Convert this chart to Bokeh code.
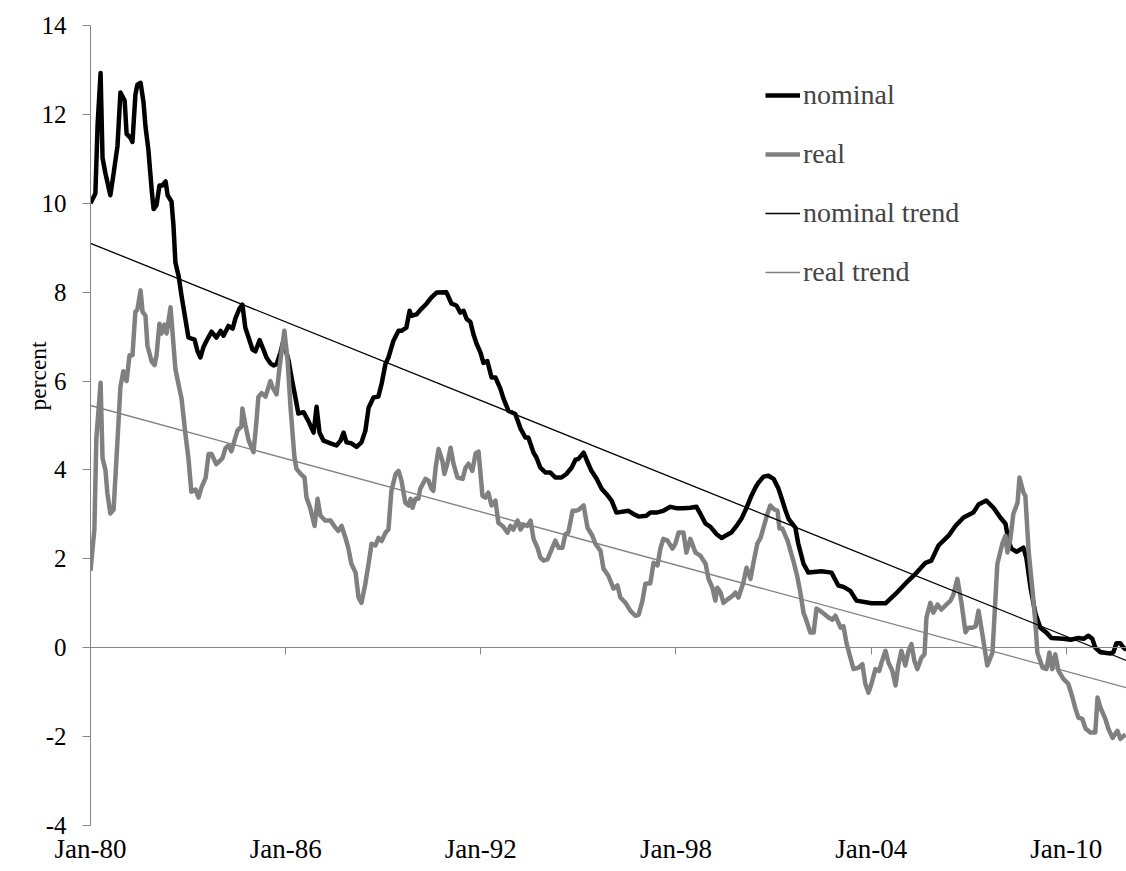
from bokeh.plotting import figure
from bokeh.models import LinearAxis, FixedTicker, Legend, LegendItem, Range1d, Title
from bokeh.embed import file_html
from bokeh.resources import INLINE

FONT = "Liberation Serif"

# ---- data (offsets in years from Jan-1980, values in percent) ----
nominal_t = [0.00, 0.15, 0.22, 0.31, 0.37, 0.46, 0.61, 0.71, 0.83, 0.92, 1.05, 1.11, 1.23, 1.29, 1.38, 1.44,
             1.54, 1.63, 1.69, 1.78, 1.88, 1.94, 2.03, 2.12, 2.21, 2.31, 2.37, 2.49, 2.55, 2.61, 2.71, 2.80,
             2.92, 3.01, 3.20, 3.29, 3.38, 3.47, 3.60, 3.72, 3.87, 4.00, 4.09, 4.24, 4.37, 4.46, 4.58, 4.67,
             4.76, 4.86, 4.98, 5.07, 5.20, 5.32, 5.41, 5.53, 5.63, 5.72, 5.84, 5.93, 6.09, 6.18, 6.30, 6.39,
             6.55, 6.70, 6.86, 6.95, 7.04, 7.16, 7.38, 7.56, 7.69, 7.78, 7.87, 8.02, 8.18, 8.33, 8.45, 8.55,
             8.70, 8.85, 8.95, 9.07, 9.16, 9.31, 9.47, 9.56, 9.71, 9.81, 9.87, 10.02, 10.18, 10.33, 10.48,
             10.64, 10.94, 11.10, 11.25, 11.37, 11.47, 11.56, 11.68, 11.77, 11.87, 11.99, 12.08, 12.20,
             12.33, 12.45, 12.60, 12.70, 12.85, 13.06, 13.22, 13.37, 13.46, 13.62, 13.71, 13.83, 13.99,
             14.14, 14.29, 14.48, 14.63, 14.79, 14.91, 15.00, 15.16, 15.25, 15.40, 15.56, 15.71, 15.86,
             16.02, 16.17, 16.54, 16.69, 16.85, 17.09, 17.21, 17.40, 17.61, 17.83, 18.01, 18.23, 18.44,
             18.63, 18.75, 18.91, 19.06, 19.24, 19.40, 19.52, 19.70, 19.86, 20.01, 20.17, 20.32, 20.44,
             20.53, 20.69, 20.84, 21.00, 21.15, 21.24, 21.37, 21.46, 21.67, 21.76, 21.92, 22.07, 22.47,
             22.78, 22.99, 23.15, 23.36, 23.55, 24.01, 24.44, 24.75, 25.05, 25.36, 25.67, 25.85, 26.07,
             26.38, 26.59, 26.84, 27.14, 27.30, 27.54, 27.76, 27.97, 28.13, 28.22, 28.31, 28.47, 28.68,
             28.77, 28.90, 29.05, 29.20, 29.39, 29.54, 29.91, 30.13, 30.37, 30.53, 30.68, 30.80, 30.89,
             31.05, 31.36, 31.45, 31.54, 31.66, 31.76, 31.85]
nominal = [10.0, 10.22, 11.8, 12.93, 11.02, 10.67, 10.18, 10.67, 11.29, 12.49, 12.31, 11.56, 11.47, 11.38,
           12.44, 12.67, 12.71, 12.27, 11.73, 11.2, 10.31, 9.87, 9.96, 10.4, 10.4, 10.49, 10.18, 10.04, 9.51,
           8.67, 8.36, 7.91, 7.38, 6.98, 6.93, 6.67, 6.53, 6.76, 6.95, 7.11, 6.98, 7.13, 7.02, 7.24, 7.18,
           7.42, 7.63, 7.72, 7.2, 6.98, 6.71, 6.67, 6.92, 6.7, 6.53, 6.4, 6.35, 6.38, 6.64, 6.9, 6.46, 6.08,
           5.63, 5.27, 5.3, 5.1, 4.84, 5.42, 4.84, 4.66, 4.6, 4.55, 4.66, 4.84, 4.62, 4.6, 4.52, 4.62, 4.88,
           5.4, 5.63, 5.65, 5.94, 6.39, 6.53, 6.9, 7.13, 7.13, 7.2, 7.58, 7.47, 7.5, 7.63, 7.74, 7.88, 7.99,
           8.0, 7.74, 7.7, 7.54, 7.58, 7.4, 7.33, 7.06, 6.84, 6.64, 6.41, 6.45, 6.08, 6.08, 5.83, 5.6, 5.33,
           5.26, 4.93, 4.73, 4.73, 4.39, 4.28, 4.05, 3.94, 3.94, 3.83, 3.83, 3.91, 4.05, 4.23, 4.25, 4.39,
           4.23, 3.98, 3.8, 3.58, 3.46, 3.31, 3.04, 3.08, 3.01, 2.95, 2.97, 3.04, 3.04, 3.08, 3.17, 3.14,
           3.14, 3.15, 3.17, 3.01, 2.79, 2.72, 2.56, 2.47, 2.52, 2.59, 2.74, 2.9, 3.15, 3.42, 3.6, 3.71,
           3.85, 3.87, 3.8, 3.58, 3.38, 3.08, 2.9, 2.7, 2.34, 1.89, 1.69, 1.72, 1.69, 1.4, 1.37, 1.28, 1.06,
           1.0, 1.0, 1.21, 1.44, 1.66, 1.91, 1.96, 2.3, 2.52, 2.74, 2.93, 3.04, 3.22, 3.31, 3.15, 2.93,
           2.79, 2.41, 2.23, 2.16, 2.25, 2.03, 1.35, 0.77, 0.45, 0.34, 0.22, 0.2, 0.18, 0.22, 0.2, 0.27, 0.2,
           0.0, -0.1, -0.13, -0.1, 0.1, 0.1, 0.0, -0.05]

real_t = [0.00, 0.12, 0.18, 0.31, 0.37, 0.46, 0.52, 0.61, 0.71, 0.80, 0.92, 1.01, 1.11, 1.20, 1.29, 1.38,
          1.44, 1.54, 1.60, 1.69, 1.75, 1.88, 1.97, 2.03, 2.12, 2.18, 2.27, 2.34, 2.46, 2.52, 2.61, 2.71,
          2.80, 2.92, 3.01, 3.10, 3.23, 3.32, 3.41, 3.54, 3.63, 3.72, 3.87, 4.00, 4.06, 4.15, 4.24, 4.33,
          4.43, 4.52, 4.64, 4.67, 4.76, 4.86, 5.01, 5.10, 5.16, 5.26, 5.38, 5.53, 5.59, 5.72, 5.81, 5.96,
          6.06, 6.15, 6.27, 6.33, 6.46, 6.58, 6.64, 6.76, 6.89, 6.98, 7.07, 7.22, 7.38, 7.53, 7.62, 7.72,
          7.84, 7.93, 8.02, 8.15, 8.24, 8.33, 8.45, 8.55, 8.64, 8.76, 8.85, 8.95, 9.07, 9.16, 9.25, 9.38,
          9.47, 9.56, 9.68, 9.78, 9.84, 9.90, 9.99, 10.08, 10.14, 10.30, 10.39, 10.48, 10.54, 10.61, 10.70,
          10.82, 10.88, 10.97, 11.07, 11.16, 11.28, 11.44, 11.53, 11.62, 11.74, 11.84, 11.93, 12.05, 12.14,
          12.23, 12.33, 12.45, 12.54, 12.67, 12.82, 12.91, 13.00, 13.13, 13.22, 13.31, 13.43, 13.53, 13.62,
          13.74, 13.83, 13.93, 14.05, 14.20, 14.29, 14.39, 14.51, 14.60, 14.69, 14.82, 14.91, 15.00, 15.16,
          15.28, 15.43, 15.52, 15.68, 15.77, 15.92, 16.08, 16.20, 16.29, 16.45, 16.60, 16.75, 16.85, 16.97,
          17.06, 17.21, 17.31, 17.43, 17.52, 17.61, 17.74, 17.89, 17.98, 18.08, 18.23, 18.32, 18.44, 18.60,
          18.75, 18.91, 19.00, 19.12, 19.21, 19.27, 19.37, 19.46, 19.61, 19.74, 19.83, 19.92, 20.07, 20.17,
          20.29, 20.38, 20.50, 20.60, 20.69, 20.81, 20.90, 21.00, 21.12, 21.18, 21.27, 21.43, 21.52, 21.61,
          21.73, 21.83, 21.92, 22.01, 22.13, 22.23, 22.32, 22.47, 22.69, 22.81, 22.90, 23.06, 23.15, 23.24,
          23.36, 23.46, 23.61, 23.73, 23.82, 23.92, 24.01, 24.13, 24.25, 24.32, 24.44, 24.53, 24.65, 24.75,
          24.84, 24.93, 25.05, 25.15, 25.24, 25.33, 25.42, 25.55, 25.64, 25.70, 25.82, 25.91, 26.04, 26.16,
          26.31, 26.44, 26.53, 26.65, 26.78, 26.90, 26.99, 27.11, 27.21, 27.30, 27.42, 27.57, 27.73, 27.88,
          28.04, 28.13, 28.19, 28.28, 28.37, 28.50, 28.56, 28.68, 28.74, 28.84, 28.96, 29.05, 29.11, 29.27,
          29.39, 29.48, 29.57, 29.66, 29.76, 29.91, 30.06, 30.19, 30.28, 30.37, 30.49, 30.59, 30.74, 30.89,
          30.96, 31.05, 31.20, 31.29, 31.42, 31.57, 31.66, 31.82]
real = [1.73, 2.67, 4.71, 5.96, 4.27, 4.0, 3.47, 3.02, 3.11, 4.27, 5.87, 6.22, 6.0, 6.58, 6.58, 7.56, 7.6,
        8.04, 7.56, 7.47, 6.8, 6.44, 6.36, 6.58, 7.29, 7.07, 7.27, 7.07, 7.66, 7.11, 6.27, 5.91, 5.6, 4.8,
        4.27, 3.51, 3.56, 3.38, 3.6, 3.82, 4.36, 4.36, 4.13, 4.22, 4.27, 4.49, 4.55, 4.42, 4.67, 4.89, 4.98,
        5.38, 5.02, 4.67, 4.4, 5.07, 5.64, 5.73, 5.65, 6.0, 5.87, 5.7, 6.3, 7.13, 6.46, 5.4, 4.28, 4.03,
        3.91, 3.83, 3.38, 3.13, 2.74, 3.35, 2.97, 2.86, 2.86, 2.7, 2.63, 2.74, 2.47, 2.23, 1.89, 1.69, 1.13,
        1.01, 1.44, 1.89, 2.34, 2.3, 2.47, 2.4, 2.59, 2.66, 3.53, 3.91, 3.98, 3.76, 3.26, 3.2, 3.35, 3.15,
        3.35, 3.35, 3.58, 3.8, 3.76, 3.58, 3.53, 4.05, 4.47, 4.2, 3.91, 4.14, 4.5, 4.14, 3.83, 3.8, 4.05,
        4.14, 3.98, 4.37, 4.41, 3.42, 3.38, 3.49, 3.2, 3.31, 2.81, 2.74, 2.59, 2.74, 2.66, 2.86, 2.66, 2.77,
        2.74, 2.86, 2.45, 2.25, 2.03, 1.96, 1.99, 2.25, 2.41, 2.25, 2.25, 2.56, 2.59, 3.08, 3.08, 3.1, 3.2,
        2.7, 2.52, 2.34, 2.18, 1.78, 1.62, 1.33, 1.4, 1.13, 1.01, 0.83, 0.72, 0.74, 1.06, 1.44, 1.45, 1.91,
        1.85, 2.23, 2.45, 2.41, 2.23, 2.34, 2.59, 2.59, 2.14, 2.45, 2.14, 2.07, 1.89, 1.55, 1.35, 1.06,
        1.35, 1.24, 1.01, 1.1, 1.17, 1.24, 1.13, 1.46, 1.8, 1.55, 1.91, 2.34, 2.47, 2.7, 3.01, 3.2, 3.12,
        3.08, 2.68, 2.68, 2.41, 2.18, 1.95, 1.6, 1.21, 0.79, 0.61, 0.34, 0.34, 0.88, 0.81, 0.68, 0.63, 0.72,
        0.45, 0.48, 0.11, -0.22, -0.48, -0.45, -0.37, -0.81, -1.01, -0.81, -0.48, -0.52, -0.33, -0.07,
        -0.33, -0.52, -0.85, -0.37, -0.07, -0.4, -0.07, 0.08, -0.3, -0.48, -0.22, -0.15, 0.68, 1.01, 0.79,
        0.97, 0.86, 0.97, 1.06, 1.2, 1.55, 0.99, 0.35, 0.45, 0.45, 0.48, 0.83, 0.3, -0.4, -0.11, 1.89,
        2.36, 2.52, 2.14, 2.45, 3.01, 3.26, 3.83, 3.49, 3.42, 2.18, 1.28, 0.56, -0.11, -0.45, -0.48, -0.11,
        -0.48, -0.15, -0.52, -0.7, -0.81, -1.12, -1.37, -1.57, -1.6, -1.82, -1.91, -1.91, -1.12, -1.35,
        -1.6, -1.82, -2.03, -1.87, -2.05, -1.95]

trend_t = [0.0, 31.85]
nominal_trend = [9.1, -0.29]
real_trend = [5.45, -0.9]

start_year = 1980
end_offset = 31.85
x_ticks = [1980, 1986, 1992, 1998, 2004, 2010]
x_tick_labels = ["Jan-80", "Jan-86", "Jan-92", "Jan-98", "Jan-04", "Jan-10"]
y_ticks = [-4, -2, 0, 2, 4, 6, 8, 10, 12, 14]
y_tick_labels = ["-4", "-2", "0", "2", "4", "6", "8", "10", "12", "14"]
y_title = "percent"

nominal_x = [start_year + t for t in nominal_t]
real_x = [start_year + t for t in real_t]
trend_x = [start_year + t for t in trend_t]

AXIS_GRAY = "#868686"
GRAY = "#808080"

p = figure(width=1126, height=871, output_backend="svg", toolbar_location=None,
           x_range=Range1d(start_year, start_year + end_offset), y_range=Range1d(-4, 14),
           x_axis_location=None, y_axis_location=None,
           min_border_left=90, min_border_right=0, min_border_top=25, min_border_bottom=46)
p.outline_line_color = None
p.xgrid.visible = False
p.ygrid.visible = False
p.background_fill_color = "white"
p.border_fill_color = "white"

# y axis
yax = LinearAxis(ticker=FixedTicker(ticks=y_ticks))
yax.major_label_overrides = {t: l for t, l in zip(y_ticks, y_tick_labels)}
yax.axis_line_color = AXIS_GRAY
yax.major_tick_line_color = AXIS_GRAY
yax.major_tick_out = 8
yax.major_tick_in = 0
yax.minor_tick_line_color = None
yax.major_label_text_font = FONT
yax.major_label_text_font_size = "25px"
yax.major_label_text_color = "black"
yax.major_label_standoff = 16
p.add_layout(yax, "left")

# y-axis title (starts about 415 px above the bottom of the plot area, as in the reference)
ytitle = Title(text=y_title, align="left", vertical_align="bottom", offset=415, standoff=-24,
               text_font=FONT, text_font_size="23.5px", text_font_style="normal", text_color="black")
p.add_layout(ytitle, "left")

# horizontal axis line at zero with tick marks
zax = LinearAxis(ticker=FixedTicker(ticks=x_ticks), fixed_location=0)
zax.axis_line_color = AXIS_GRAY
zax.major_tick_line_color = AXIS_GRAY
zax.major_tick_out = 7
zax.major_tick_in = 0
zax.minor_tick_line_color = None
zax.major_label_text_alpha = 0
zax.major_label_text_font_size = "0px"
zax.major_label_standoff = 0
p.add_layout(zax, "below")

# category labels at the bottom
xax = LinearAxis(ticker=FixedTicker(ticks=x_ticks))
xax.major_label_overrides = {t: l for t, l in zip(x_ticks, x_tick_labels)}
xax.axis_line_color = None
xax.major_tick_line_color = None
xax.major_tick_out = 0
xax.major_tick_in = 0
xax.minor_tick_line_color = None
xax.major_label_text_font = FONT
xax.major_label_text_font_size = "27px"
xax.major_label_text_color = "black"
xax.major_label_standoff = 8
p.add_layout(xax, "below")

r_nom = p.line(nominal_x, nominal, line_color="black", line_width=4.5, line_join="round")
r_real = p.line(real_x, real, line_color=GRAY, line_width=4.5, line_join="round")
r_nt = p.line(trend_x, nominal_trend, line_color="black", line_width=1.3)
r_rt = p.line(trend_x, real_trend, line_color=GRAY, line_width=1.3)

legend = Legend(items=[LegendItem(label="nominal", renderers=[r_nom]),
                       LegendItem(label="real", renderers=[r_real]),
                       LegendItem(label="nominal trend", renderers=[r_nt]),
                       LegendItem(label="real trend", renderers=[r_rt])],
                location=(675, 537))
legend.border_line_color = None
legend.background_fill_alpha = 0
legend.label_text_font = FONT
legend.label_text_font_size = "28px"
legend.glyph_width = 35
legend.glyph_height = 30
legend.label_height = 30
legend.spacing = 27
legend.padding = 0
legend.margin = 0
legend.label_standoff = 3
p.add_layout(legend)

open("out.html", "w").write(file_html(p, INLINE))
